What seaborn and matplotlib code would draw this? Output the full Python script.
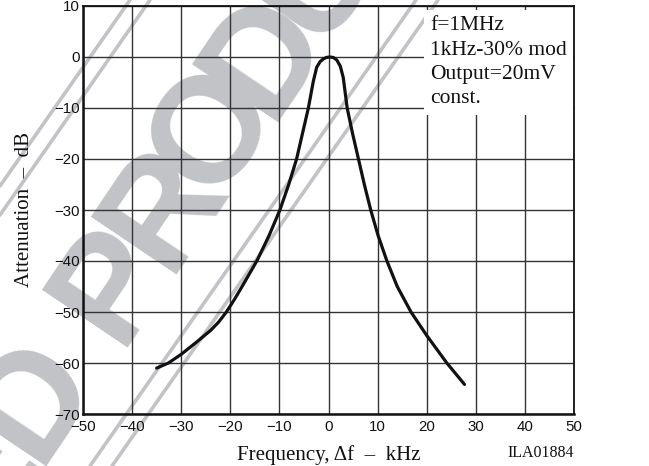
import math
import matplotlib
matplotlib.use('Agg')
import matplotlib.pyplot as plt
from matplotlib.lines import Line2D
import seaborn as sns
import pandas as pd

# attenuation curve (kHz, dB)
freq_khz = [-35.0, -32.6, -30.0, -27.0, -24.0, -22.4, -20.8, -19.2, -17.6, -14.6,
            -12.1, -9.9, -8.1, -6.5, -5.3, -4.1, -3.1, -2.4, -1.7, -1.0, -0.4, 0.3,
            1.0, 1.7, 2.4, 3.0, 3.8, 4.9, 6.1, 7.3, 8.6, 10.1, 11.9,
            14.0, 16.8, 20.0, 24.1, 27.7]
atten_db = [-61.0, -60.0, -58.3, -56.0, -53.6, -52.0, -50.0, -47.6, -45.0, -40.0,
            -35.0, -30.0, -25.0, -20.0, -15.0, -10.0, -4.8, -2.0, -0.9, -0.35, -0.08, 0.0,
            -0.1, -0.6, -1.8, -4.0, -10.0, -15.0, -20.0, -25.0, -30.0, -35.0, -40.0,
            -45.0, -50.0, -54.6, -60.0, -64.2]
x_ticks = [-50, -40, -30, -20, -10, 0, 10, 20, 30, 40, 50]
y_ticks = [-70, -60, -50, -40, -30, -20, -10, 0, 10]
note = "f=1MHz\n1kHz-30% mod\nOutput=20mV\nconst."

sns.set_style('white')
plt.rcParams['font.family'] = ['Liberation Sans', 'DejaVu Sans']

W, H = 649, 466
fig = plt.figure(figsize=(W / 100, H / 100), dpi=100)
fig.patch.set_facecolor('white')
ax = fig.add_axes([83 / W, 1 - 414 / H, 491 / W, 408 / H])
ax.set_facecolor('none')
ax.set_zorder(2)

# grey "discontinued product" watermark behind the chart
wm_gray = '#c1c3c7'
ang = 56
ux, uy = math.cos(math.radians(ang)), -math.sin(math.radians(ang))
px, py = 100, 275  # centre of the "P", in image pixels
for ch, off in zip("EDPRODUC", [-232, -140, 0, 92, 184, 276, 368, 460]):
    cx, cy = px + off * ux, py + off * uy
    fig.text(cx / W, 1 - cy / H, ch, rotation=ang, rotation_mode='anchor',
             ha='center', va='center_baseline', fontsize=108, fontweight='bold',
             color=wm_gray, zorder=0)
stripes = [((0, 186), (130, 0)), ((0, 215), (150, 0)),
           ((90, 466), (416, 0)), ((112, 466), (438, 0))]
for (x0, y0), (x1, y1) in stripes:
    fig.add_artist(Line2D([x0 / W, x1 / W], [1 - y0 / H, 1 - y1 / H],
                          transform=fig.transFigure, color=wm_gray, lw=2.6, zorder=0))

df = pd.DataFrame({'freq': freq_khz, 'att': atten_db})
sns.lineplot(data=df, x='freq', y='att', ax=ax, color='#111111', lw=2.3,
             estimator=None, zorder=4)

ax.set_xlim(-50, 50)
ax.set_ylim(-70, 10)
ax.set_xticks(x_ticks)
ax.set_yticks(y_ticks)
ax.set_xticklabels([f"\u2212{abs(v)}" if v < 0 else str(v) for v in x_ticks])
ax.set_yticklabels([f"\u2212{abs(v)}" if v < 0 else str(v) for v in y_ticks])
ax.tick_params(length=0, labelsize=10.8, colors='#111111')
ax.tick_params(axis='x', pad=4)
ax.tick_params(axis='y', pad=2.5)
ax.grid(True, color='#333333', lw=1.0, zorder=1)
ax.set_axisbelow(True)
for side in ['left', 'bottom']:
    ax.spines[side].set_linewidth(1.8)
for side in ['top', 'right']:
    ax.spines[side].set_linewidth(1.3)
for s in ax.spines.values():
    s.set_color('#111111')
    s.set_zorder(5)

serif = ['Liberation Serif', 'DejaVu Serif']
ax.text(20.7, 8.0, note, ha='left', va='top', fontsize=15.5, family=serif,
        linespacing=1.38, color='#111111', zorder=3,
        bbox=dict(boxstyle='square,pad=0.3', fc='white', ec='none'))

ax.set_xlabel("Frequency, \u0394f  \u2013  kHz", fontsize=15, family=serif, color='#111111')
ax.set_ylabel("Attenuation  \u2013  dB", fontsize=15, family=serif, color='#111111')
ax.xaxis.set_label_coords(0.5, -0.077)
ax.yaxis.set_label_coords(-0.1, 0.5)
fig.text(574 / W, 1 - 453 / H, "ILA01884", ha='right', va='center', fontsize=11.5,
         family=serif, color='#111111')

fig.savefig('out.png', dpi=100)
